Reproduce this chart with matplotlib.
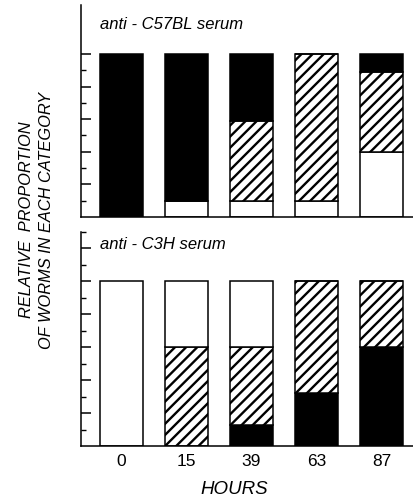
import numpy as np
import matplotlib
matplotlib.use("Agg")
import matplotlib.pyplot as plt

# data: relative proportion of worms in each category
hours = ["0", "15", "39", "63", "87"]

# anti-C57BL serum, stacked bottom -> top: white, hatched, black
c57_white = [0.0, 0.10, 0.10, 0.10, 0.40]
c57_hatched = [0.0, 0.0, 0.49, 0.90, 0.49]
c57_black = [1.0, 0.90, 0.41, 0.0, 0.11]

# anti-C3H serum, stacked bottom -> top: black, hatched, white
c3h_black = [0.0, 0.0, 0.13, 0.32, 0.60]
c3h_hatched = [0.0, 0.60, 0.47, 0.68, 0.40]
c3h_white = [1.0, 0.40, 0.40, 0.0, 0.0]

plt.rcParams['font.family'] = ['Liberation Sans', 'DejaVu Sans']
plt.rcParams['hatch.linewidth'] = 1.7

STYLE = {
    "white": dict(facecolor="white", hatch=None),
    "hatched": dict(facecolor="white", hatch="///"),
    "black": dict(facecolor="black", hatch=None),
}


def gambar_stack(ax, segmen):
    x = np.arange(len(hours))
    dasar = np.zeros(len(hours))
    for nama, nilai in segmen:
        nilai = np.array(nilai)
        st = STYLE[nama]
        ax.bar(x, nilai, width=0.66, bottom=dasar, facecolor=st["facecolor"],
               edgecolor="black", linewidth=1.1, hatch=st["hatch"])
        dasar = dasar + nilai
    ax.set_xlim(-0.623, 4.5)
    ax.set_ylim(0, 1.3)
    for s in ["top", "right"]:
        ax.spines[s].set_visible(False)
    for s in ["left", "bottom"]:
        ax.spines[s].set_linewidth(1.1)
    ax.tick_params(axis="y", which="major", direction="in", length=7, width=1.1,
                   labelleft=False)
    ax.tick_params(axis="y", which="minor", direction="in", length=3.5, width=1.0)
    ax.tick_params(axis="x", length=0)


fig = plt.figure(figsize=(4.14, 4.97), dpi=100)
ax1 = fig.add_axes([0.1957, 0.5634, 0.8043, 0.4266])
ax2 = fig.add_axes([0.1957, 0.1026, 0.8043, 0.4306])

gambar_stack(ax1, [("white", c57_white), ("hatched", c57_hatched), ("black", c57_black)])
gambar_stack(ax2, [("black", c3h_black), ("hatched", c3h_hatched), ("white", c3h_white)])

# panel atas: tick hanya sampai 1.0
ax1.set_yticks([0.2, 0.4, 0.6, 0.8, 1.0])
ax1.set_yticks([0.1, 0.3, 0.5, 0.7, 0.9], minor=True)
ax1.set_xticks([])
ax2.set_yticks([0.2, 0.4, 0.6, 0.8, 1.0, 1.2])
ax2.set_yticks([0.1, 0.3, 0.5, 0.7, 0.9, 1.1, 1.3], minor=True)
ax2.set_xticks(np.arange(len(hours)))
ax2.set_xticklabels(hours, fontsize=12.5)
ax2.tick_params(axis="x", pad=6)

ax1.text(0.057, 0.906, "anti - C57BL serum", transform=ax1.transAxes,
         fontsize=12, style="italic", va="center", ha="left")
ax2.text(0.057, 0.94, "anti - C3H serum", transform=ax2.transAxes,
         fontsize=12, style="italic", va="center", ha="left")

ax2.set_xlabel("HOURS", fontsize=13.5, style="italic")
ax2.xaxis.set_label_coords(0.46, -0.165)

fig.text(0.088, 0.557, "RELATIVE  PROPORTION\nOF WORMS IN EACH CATEGORY",
         rotation=90, fontsize=11.8, style="italic", ha="center", va="center",
         linespacing=1.4)

fig.savefig("out.png", dpi=100)
